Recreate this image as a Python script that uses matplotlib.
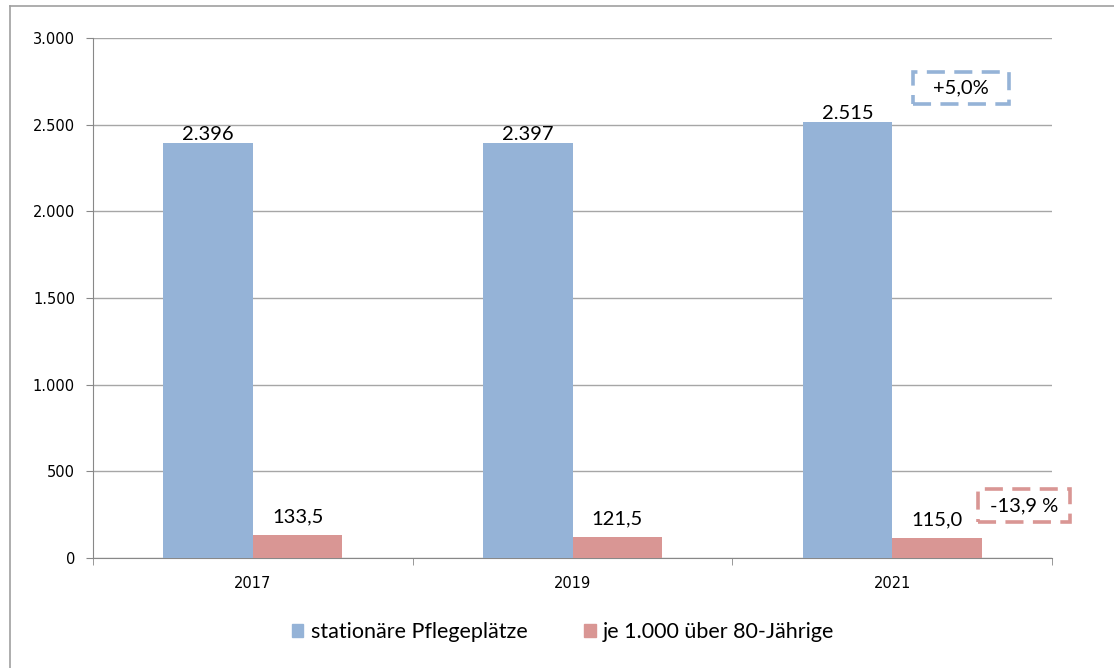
import matplotlib.pyplot as plt
from matplotlib.patches import Patch, Rectangle
from matplotlib.lines import Line2D
import numpy as np

years = ["2017", "2019", "2021"]
plaetze = [2396, 2397, 2515]
je_1000 = [133.5, 121.5, 115.0]
plaetze_labels = ["2.396", "2.397", "2.515"]
je_1000_labels = ["133,5", "121,5", "115,0"]
yticks = [0, 500, 1000, 1500, 2000, 2500, 3000]
ytick_labels = ["0", "500", "1.000", "1.500", "2.000", "2.500", "3.000"]
change_blue = "+5,0%"
change_red = "-13,9 %"

blue = "#95B3D7"
red = "#D99694"
grid_col = "#a6a6a6"
lab_font = "Lato"
lab_size = 14.5

fig = plt.figure(figsize=(11.14, 6.68), dpi=100)
ax = fig.add_axes([93 / 1114, 1 - 558 / 668, (1052 - 93) / 1114, (558 - 38) / 668])

x = np.arange(len(years))
w = 0.28
ax.bar(x - w / 2, plaetze, width=w, color=blue, zorder=3)
ax.bar(x + w / 2, je_1000, width=w, color=red, zorder=3)

for i in range(len(years)):
    ax.annotate(plaetze_labels[i], (x[i] - w / 2, plaetze[i]), xytext=(0, 0),
                textcoords="offset points", ha="center", va="bottom",
                fontsize=lab_size, family=lab_font, color="#000000")
    ax.annotate(je_1000_labels[i], (x[i] + w / 2, je_1000[i]), xytext=(0, 7),
                textcoords="offset points", ha="center", va="bottom",
                fontsize=lab_size, family=lab_font, color="#000000")

# dashed boxes with the change in percent
for cx, cy, bw, bh, txt, col in [(2.2156, 2711, 0.30, 180, change_blue, blue),
                                 (2.4125, 303, 0.29, 195, change_red, red)]:
    ax.add_patch(Rectangle((cx - bw / 2, cy - bh / 2), bw, bh, fc="white", ec=col,
                           lw=2.6, ls=(0, (5, 2.6)), zorder=4, clip_on=False))
    ax.text(cx, cy, txt, ha="center", va="center", fontsize=lab_size,
            family=lab_font, zorder=5, clip_on=False)

ax.set_xlim(-0.5, 2.5)
ax.set_ylim(0, 3000)
ax.set_yticks(yticks)
ax.set_yticklabels(ytick_labels)
ax.set_xticks(x)
ax.set_xticklabels(years)
ax.set_xticks([-0.5, 0.5, 1.5, 2.5], minor=True)
ax.tick_params(axis="x", which="major", length=0, pad=13, labelsize=10.5)
ax.tick_params(axis="x", which="minor", length=5, color="#888888")
ax.tick_params(axis="y", length=5, color="#888888", labelsize=10.5, pad=8)
ax.yaxis.grid(True, color=grid_col, lw=1, zorder=0)
for s in ["top", "right"]:
    ax.spines[s].set_visible(False)
for s in ["left", "bottom"]:
    ax.spines[s].set_color("#888888")

handles = [Patch(color=blue, label="stationäre Pflegeplätze"),
           Patch(color=red, label="je 1.000 über 80-Jährige")]
fig.legend(handles=handles, loc="center", bbox_to_anchor=(563 / 1114, 1 - 632 / 668),
           ncol=2, frameon=False, prop={"family": lab_font, "size": 15.5},
           handlelength=0.55, handleheight=0.55, handletextpad=0.35, columnspacing=2.6)

fig.add_artist(Line2D([10 / 1114, 1], [1 - 6 / 668, 1 - 6 / 668],
                      transform=fig.transFigure, color="#a0a0a0", lw=1.2))
fig.add_artist(Line2D([10 / 1114, 10 / 1114], [0, 1 - 6 / 668],
                      transform=fig.transFigure, color="#a0a0a0", lw=1.2))

fig.savefig("out.png", dpi=100)
